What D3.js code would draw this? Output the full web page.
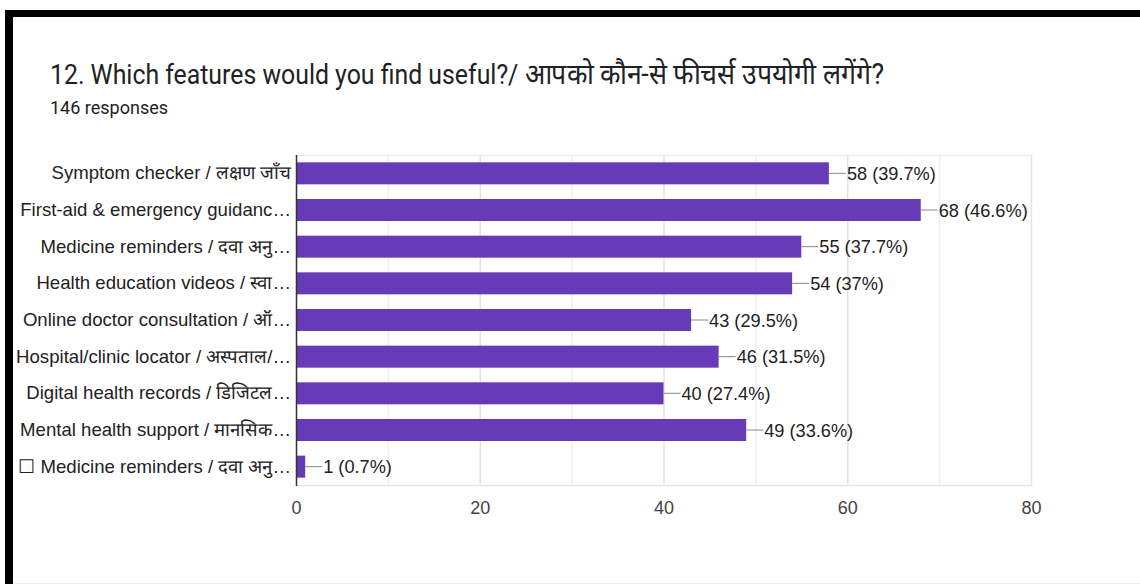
<!DOCTYPE html>
<html>
<head>
<meta charset="utf-8">
<script src="https://cdn.jsdelivr.net/npm/d3@7"></script>
<style>
  html, body { margin: 0; padding: 0; background: #fff; }
  svg { display: block; }
</style>
</head>
<body>
<svg id="chart" width="1140" height="584"></svg>
<script>
// Survey question 12 – feature usefulness (146 responses)
const categories = [
  "Symptom checker / लक्षण जाँच",
  "First-aid & emergency guidanc…",
  "Medicine reminders / दवा अनु…",
  "Health education videos / स्वा…",
  "Online doctor consultation / ऑ…",
  "Hospital/clinic locator / अस्पताल/…",
  "Digital health records / डिजिटल…",
  "Mental health support / मानसिक…",
  "☐ Medicine reminders / दवा अनु…"
];
const counts = [58, 68, 55, 54, 43, 46, 40, 49, 1];
const percents = ["39.7%", "46.6%", "37.7%", "37%", "29.5%", "31.5%", "27.4%", "33.6%", "0.7%"];
const xTicks = [0, 20, 40, 60, 80];
const gridValues = [10, 20, 30, 40, 50, 60, 70, 80];
const titleEnglish = "12. Which features would you find useful?/ ";
const titleHindi = "आपको कौन-से फीचर्स उपयोगी लगेंगे?";
const subtitleText = "146 responses";

const svg = d3.select("#chart");
const W = 1140, H = 584;

// Page frame: black top band and left band
svg.append("rect").attr("x", 5).attr("y", 10).attr("width", W - 5).attr("height", 7).attr("fill", "#000");
svg.append("rect").attr("x", 5).attr("y", 10).attr("width", 8).attr("height", H - 10).attr("fill", "#000");
svg.append("line").attr("x1", 13).attr("x2", W).attr("y1", 583.5).attr("y2", 583.5)
  .attr("stroke", "#eeeeee").attr("stroke-width", 1);

// Heading (slightly condensed)
const title = svg.append("text")
  .attr("transform", "translate(50,84) scale(0.92,1)")
  .attr("font-family", "Roboto, sans-serif")
  .attr("font-size", 27)
  .attr("fill", "#202124");
title.append("tspan").text(titleEnglish);
title.append("tspan").attr("font-size", 29).text(titleHindi);

svg.append("text")
  .attr("x", 50).attr("y", 114)
  .attr("font-family", "Roboto, sans-serif")
  .attr("font-size", 18)
  .attr("fill", "#202124")
  .text(subtitleText);

// Plot area
const plot = { left: 296, right: 1031, top: 155, bottom: 485 };

const x = d3.scaleLinear().domain([0, 80]).range([plot.left, plot.right]);
const y = d3.scaleBand().domain(categories).range([plot.top, plot.bottom]).paddingInner(0.4).paddingOuter(0.2);

const g = svg.append("g");

// Gridlines every 10
g.append("g").selectAll("line").data(gridValues).join("line")
  .attr("x1", d => x(d) + 0.5).attr("x2", d => x(d) + 0.5)
  .attr("y1", plot.top).attr("y2", plot.bottom)
  .attr("stroke", d => d % 20 === 0 ? "#e3e3e3" : "#efefef")
  .attr("stroke-width", 1.5);
// top and bottom frame lines
g.append("line").attr("x1", plot.left).attr("x2", plot.right + 1)
  .attr("y1", plot.top + 0.5).attr("y2", plot.top + 0.5).attr("stroke", "#ececec").attr("stroke-width", 1.5);
g.append("line").attr("x1", plot.left).attr("x2", plot.right + 1)
  .attr("y1", plot.bottom + 0.5).attr("y2", plot.bottom + 0.5).attr("stroke", "#e6e6e6").attr("stroke-width", 1.5);

// Bars
g.append("g").selectAll("rect").data(categories).join("rect")
  .attr("x", x(0))
  .attr("y", d => y(d))
  .attr("width", (d, i) => x(counts[i]) - x(0))
  .attr("height", y.bandwidth())
  .attr("fill", "#673ab7");

// Leader lines and value labels
const labels = g.append("g");
labels.selectAll("line").data(categories).join("line")
  .attr("x1", (d, i) => x(counts[i]))
  .attr("x2", (d, i) => x(counts[i]) + 17)
  .attr("y1", d => y(d) + y.bandwidth() / 2)
  .attr("y2", d => y(d) + y.bandwidth() / 2)
  .attr("stroke", "#888")
  .attr("stroke-width", 1);
labels.selectAll("text").data(categories).join("text")
  .attr("x", (d, i) => x(counts[i]) + 18)
  .attr("y", d => y(d) + y.bandwidth() / 2)
  .attr("dy", "0.36em")
  .attr("font-family", "'Liberation Sans', Arial, sans-serif")
  .attr("font-size", 18.2)
  .attr("fill", "#222")
  .text((d, i) => `${counts[i]} (${percents[i]})`);

// Category axis
const yAxis = d3.axisLeft(y).tickSize(0).tickPadding(5);
const ya = svg.append("g").attr("transform", `translate(${plot.left},0)`).call(yAxis);
ya.select(".domain").remove();
ya.selectAll("text")
  .attr("font-family", "'Liberation Sans', Arial, sans-serif")
  .attr("font-size", 18.6)
  .attr("fill", "#222");
svg.append("line")
  .attr("x1", plot.left + 0.5).attr("x2", plot.left + 0.5)
  .attr("y1", plot.top).attr("y2", plot.bottom + 1)
  .attr("stroke", "#333").attr("stroke-width", 1.5);

// Value axis
const xAxis = d3.axisBottom(x).tickValues(xTicks).tickSize(0).tickPadding(16);
const xa = svg.append("g").attr("transform", `translate(0,${plot.bottom})`).call(xAxis);
xa.select(".domain").remove();
xa.selectAll("text")
  .attr("font-family", "'Liberation Sans', Arial, sans-serif")
  .attr("font-size", 18)
  .attr("fill", "#444");
</script>
</body>
</html>
